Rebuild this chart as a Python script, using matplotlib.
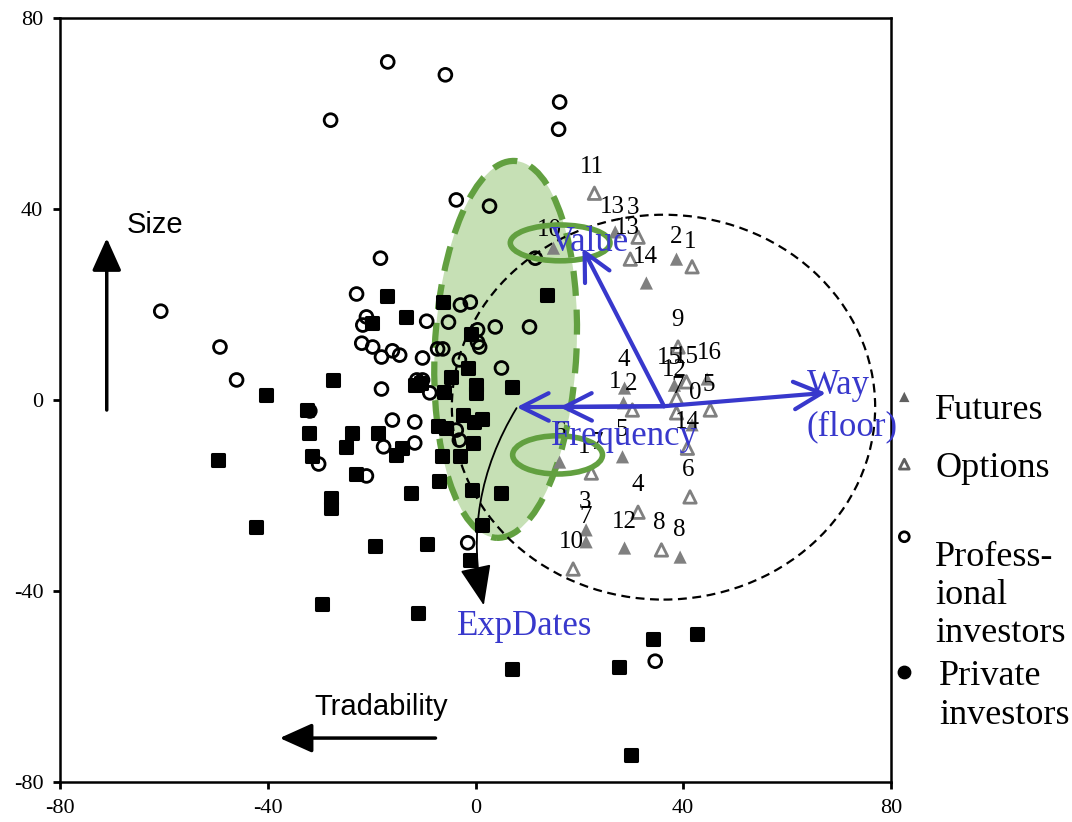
import matplotlib
matplotlib.use("Agg")
import matplotlib.pyplot as plt
from matplotlib.patches import Ellipse, FancyArrowPatch
from matplotlib.markers import MarkerStyle

plt.rcParams['font.family'] = ['Liberation Serif', 'DejaVu Serif']

# ---------------- data ----------------
prof_x = [-16.9, -5.8, 16.2, 16.0, -27.9, -3.7, 2.7, -60.6, -18.3, -22.9, -21.0, -21.7,
          -9.4, -2.9, -1.0, -5.2, 0.4, 3.8, 10.4, -49.2, -21.9, -19.8, -18.1, -16.0,
          -14.6, -10.2, -7.3, -6.3, -3.1, 0.4, 0.8, 5.0, -46.0, -11.3, -10.2, -8.8,
          -18.1, -31.9, -16.0, -11.7, -3.7, -3.1, -17.7, -11.7, -30.2, -21.0, -1.5,
          34.6, 11.5]
prof_y = [70.8, 68.1, 62.4, 56.7, 58.6, 41.9, 40.6, 18.6, 29.7, 22.2, 17.4, 15.7,
          16.5, 19.9, 20.5, 16.3, 14.7, 15.3, 15.3, 11.1, 11.9, 11.1, 9.0, 10.3,
          9.4, 8.8, 10.7, 10.7, 8.4, 12.1, 11.1, 6.7, 4.2, 4.2, 4.2, 1.5,
          2.3, -2.3, -4.2, -4.6, -6.3, -8.4, -9.8, -9.0, -13.4, -15.9, -29.9,
          -54.7, 29.7]

priv_x = [-17.1, -13.3, -6.3, -20.0, -0.8, -1.5, 13.8, 7.1, -27.5, -11.7, -10.4, -6.0,
          -4.8, 0.0, 0.0, -40.4, -32.5, -2.5, -0.2, 1.3, -7.3, -5.6, -0.4, -32.1,
          -23.8, -18.7, -25.0, -14.2, -15.4, -6.5, -2.9, -31.5, -49.6, -23.1, -7.1,
          -12.5, -0.6, 5.0, -27.9, -27.9, -42.3, 1.3, -19.4, -9.4, -1.0, -29.6,
          -11.0, 7.1, 27.7, 34.2, 42.7, 30.0]
priv_y = [21.8, 17.4, 20.5, 16.1, 13.8, 6.7, 22.0, 2.7, 4.2, 3.1, 3.6, 1.7,
          4.8, 3.1, 1.5, 1.0, -2.1, -3.1, -4.6, -4.0, -5.4, -5.9, -9.0, -6.9,
          -6.9, -6.9, -9.8, -10.1, -11.5, -11.7, -11.7, -11.7, -12.6, -15.5, -17.0,
          -19.5, -18.8, -19.5, -20.5, -22.6, -26.6, -26.2, -30.6, -30.2, -33.5, -42.7,
          -44.6, -56.3, -55.9, -50.0, -49.0, -74.3]

fut_x = [26.9, 15.0, 38.7, 32.9, 28.7, 28.5, 38.3, 41.7, 28.3, 16.2, 21.3, 21.3, 28.7, 39.4, 44.6]
fut_y = [35.2, 31.8, 29.5, 24.5, 2.5, -0.6, 3.1, -5.2, -11.9, -13.0, -27.2, -29.7, -31.0, -32.9, 4.4]

opt_x = [22.9, 31.3, 29.8, 41.7, 39.0, 40.6, 30.2, 38.7, 45.2, 40.8, 22.3, 41.3, 31.3, 18.8, 35.8, 38.7]
opt_y = [43.3, 34.1, 29.5, 27.9, 11.1, 3.8, -2.1, -2.7, -2.1, -10.1, -15.3, -20.3, -23.5, -35.4, -31.4, 0.4]

num_text = ["11", "13", "3", "13", "10", "2", "1", "14", "9", "15", "15", "16", "12", "4",
            "1", "2", "7", "0", "5", "14", "5", "6", "1", "7", "6", "4", "3", "7", "10",
            "12", "8", "8"]
num_x = [22.5, 26.3, 30.4, 29.2, 14.2, 38.7, 41.3, 32.7, 38.8, 37.3, 40.6, 45.0, 38.3, 28.5,
         26.9, 30.0, 39.0, 42.3, 45.0, 40.8, 28.1, 16.2, 21.0, 23.3, 41.0, 31.2, 21.0, 21.2,
         18.5, 28.7, 35.4, 39.2]
num_y = [48.8, 40.4, 40.2, 36.0, 35.6, 34.1, 33.1, 29.9, 16.8, 8.8, 9.0, 9.8, 6.3, 8.4,
         3.8, 3.4, 2.7, 1.5, 3.1, -4.6, -6.3, -6.7, -9.8, -9.0, -14.7, -17.8, -21.4, -24.5,
         -29.7, -25.5, -25.8, -27.2]

# biplot vectors (origin and tips)
vec_origin = (36.3, -1.3)
vec_value = (20.6, 31.8)
vec_way = (67.5, 1.5)
vec_freq = [(7.9, -1.5), (16.2, -1.5)]
exp_start = (7.9, -1.7)
exp_end = (1.6, -43.0)

xticks = [-80, -40, 0, 40, 80]
yticks = [-80, -40, 0, 40, 80]

GRAY = '#808080'
BLUE = '#3838cc'
GREEN_EDGE = '#62a040'
GREEN_FILL = '#c6e0b5'

# ---------------- figure ----------------
fig = plt.figure(figsize=(10.72, 8.22), dpi=100)
ax = fig.add_axes([60/1072, 1-782/822, 831/1072, 764/822])
ax.set_xlim(-80, 80)
ax.set_ylim(-80, 80)

# green ellipse
ax.add_patch(Ellipse((5.8, 10.6), 27.3, 79.0, angle=-2.5, facecolor=GREEN_FILL,
                     edgecolor=GREEN_EDGE, lw=4.5, ls=(0, (4, 2.2)), zorder=1))
# dashed black ellipse
ax.add_patch(Ellipse((36.2, -1.5), 81.5, 80.6, facecolor='none', edgecolor='black',
                     lw=1.6, ls=(0, (4, 2.5)), zorder=2))
# small green ellipses
ax.add_patch(Ellipse((16.3, 32.9), 19.2, 7.5, facecolor='none', edgecolor=GREEN_EDGE,
                     lw=4.0, zorder=4))
ax.add_patch(Ellipse((15.8, -11.5), 17.3, 8.0, facecolor='none', edgecolor=GREEN_EDGE,
                     lw=4.0, zorder=4))

# points
sq = MarkerStyle('s', joinstyle='round')
ax.scatter(priv_x, priv_y, marker=sq, s=64, facecolor='black', edgecolor='black',
           linewidths=2.2, zorder=3)
ax.scatter(prof_x, prof_y, marker='o', s=85, facecolor='none', edgecolor='black',
           linewidths=2.0, zorder=3)
ax.scatter(fut_x, fut_y, marker='^', s=90, facecolor=GRAY, edgecolor='none', zorder=3)
ax.scatter(opt_x, opt_y, marker='^', s=80, facecolor='none', edgecolor=GRAY,
           linewidths=2.0, zorder=3)

for t, x, y in zip(num_text, num_x, num_y):
    ax.text(x, y, t, fontsize=18, ha='center', va='center', color='black', zorder=3)

# blue vectors
def blue_arrow(tip):
    ax.add_patch(FancyArrowPatch(vec_origin, tip, arrowstyle='->,head_length=0.9,head_width=0.45',
                                 mutation_scale=22, color=BLUE, lw=3.0, zorder=6,
                                 shrinkA=0, shrinkB=0))

blue_arrow(vec_value)
blue_arrow(vec_way)
for tp in vec_freq:
    blue_arrow(tp)

# curved black arrow to ExpDates
ax.add_patch(FancyArrowPatch(exp_start, exp_end, connectionstyle='arc3,rad=0.2',
                             arrowstyle='-|>,head_length=1.4,head_width=0.55',
                             mutation_scale=18, color='black', lw=1.3, zorder=6,
                             shrinkA=0, shrinkB=0))

ax.text(21.9, 32.9, 'Value', fontsize=25, color=BLUE, ha='center', va='center', zorder=7)
ax.text(28.7, -7.7, 'Frequency', fontsize=25, color=BLUE, ha='center', va='center', zorder=7)
ax.text(63.8, 3.1, 'Way', fontsize=25, color=BLUE, ha='left', va='center', zorder=7)
ax.text(63.8, -5.7, '(floor)', fontsize=25, color=BLUE, ha='left', va='center', zorder=7)
ax.text(9.4, -47.5, 'ExpDates', fontsize=25, color=BLUE, ha='center', va='center', zorder=7)

# Size / Tradability arrows
ax.annotate('', xy=(-71.0, 33.9), xytext=(-71.0, -2.1),
            arrowprops=dict(arrowstyle='-|>,head_length=1.0,head_width=0.45',
                            mutation_scale=20, color='black', lw=2.5, shrinkA=0, shrinkB=0))
ax.annotate('', xy=(-37.7, -70.8), xytext=(-7.7, -70.8),
            arrowprops=dict(arrowstyle='-|>,head_length=1.0,head_width=0.45',
                            mutation_scale=20, color='black', lw=2.5, shrinkA=0, shrinkB=0))
ax.text(-67.1, 36.6, 'Size', fontsize=21, family=['Liberation Sans', 'DejaVu Sans'],
        ha='left', va='center')
ax.text(-31.0, -64.3, 'Tradability', fontsize=21, family=['Liberation Sans', 'DejaVu Sans'],
        ha='left', va='center')

# axes styling
ax.set_xticks(xticks)
ax.set_yticks(yticks)
ax.set_xticklabels([str(v) for v in xticks])
ax.set_yticklabels([str(v) for v in yticks])
ax.tick_params(direction='out', length=5, width=2, labelsize=16, pad=7,
               top=False, right=False)
for sp in ax.spines.values():
    sp.set_linewidth(1.8)

# legend (manual)
lx = 1.016
ax.scatter([lx], [0.504], marker='^', s=55, facecolor='#606060', edgecolor='none',
           transform=ax.transAxes, clip_on=False)
ax.scatter([lx], [0.416], marker='^', s=50, facecolor='none', edgecolor='#606060',
           linewidths=2.0, transform=ax.transAxes, clip_on=False)
ax.scatter([lx], [0.321], marker='o', s=50, facecolor='none', edgecolor='black',
           linewidths=2.0, transform=ax.transAxes, clip_on=False)
ax.scatter([lx], [0.144], marker='o', s=80, facecolor='black', edgecolor='black',
           transform=ax.transAxes, clip_on=False)
legend_lines = [("Futures", 1.053, 0.475), ("Options", 1.053, 0.399),
                ("Profess-", 1.053, 0.283), ("ional", 1.053, 0.233),
                ("investors", 1.053, 0.183), ("Private", 1.058, 0.127),
                ("investors", 1.058, 0.076)]
for t, x, y in legend_lines:
    ax.text(x, y, t, fontsize=26, transform=ax.transAxes, ha='left', va='baseline',
            clip_on=False)

fig.savefig('out.png', dpi=100, facecolor='white')
